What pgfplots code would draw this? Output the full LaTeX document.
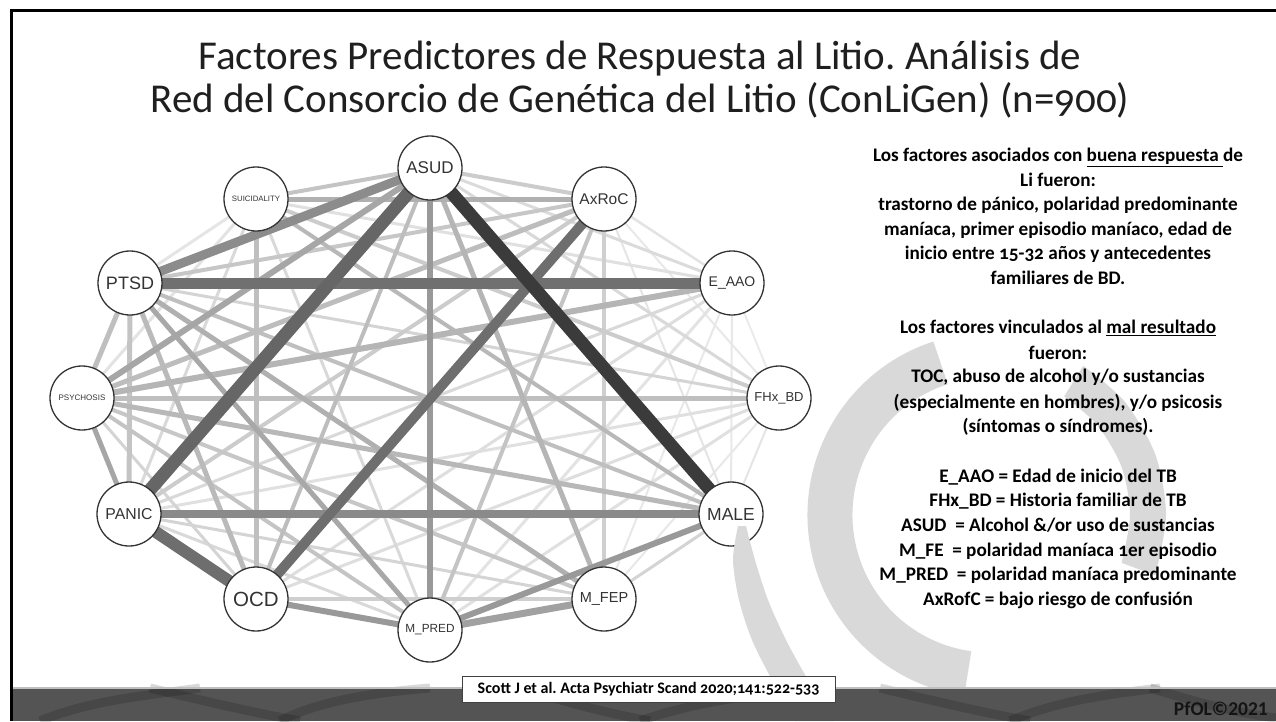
\documentclass[border=0pt]{standalone}
\usepackage{pgfplots}
\pgfplotsset{compat=1.18}
\usepackage{fontspec}
\setmainfont{Carlito}[Numbers=OldStyle]
\newfontfamily\lin{Carlito}
\newfontfamily\arial{Liberation Sans}
\definecolor{wm}{HTML}{D9D9D9}
\definecolor{bar}{HTML}{545454}
\frenchspacing

\begin{document}
\begin{tikzpicture}
\fill[white] (0,0) rectangle (1276pt,721pt);
\begin{axis}[
    at={(0pt,0pt)}, anchor=south west,
    scale only axis, width=1276pt, height=721pt,
    xmin=0, xmax=1276, ymin=0, ymax=721,
    y dir=reverse, hide axis, clip=false
]
% edges, light to dark
\addplot[draw=black!8,  line width=2pt] coordinates {(779,398) (732,283)};
\addplot[draw=black!9,  line width=2pt] coordinates {(604,599) (779,398)};
\addplot[draw=black!9,  line width=2pt] coordinates {(604,599) (732,283)};
\addplot[draw=black!9,  line width=2pt] coordinates {(731,514) (732,283)};
\addplot[draw=black!9,  line width=2pt] coordinates {(779,398) (604,199)};
\addplot[draw=black!10, line width=2pt] coordinates {(731,514) (779,398)};
\addplot[draw=black!10, line width=2pt] coordinates {(731,514) (604,199)};
\addplot[draw=black!11, line width=2.5pt] coordinates {(732,283) (604,199)};
\addplot[draw=black!11, line width=3pt] coordinates {(430,630) (732,283)};
\addplot[draw=black!10, line width=3pt] coordinates {(130,283) (256,199)};
\addplot[draw=black!11, line width=3pt] coordinates {(82,398) (256,199)};
\addplot[draw=black!12, line width=3pt] coordinates {(129,514) (779,398)};
\addplot[draw=black!12, line width=3pt] coordinates {(430,630) (779,398)};
\addplot[draw=black!12, line width=3pt] coordinates {(732,283) (256,199)};
\addplot[draw=black!13, line width=3pt] coordinates {(256,599) (732,283)};
\addplot[draw=black!13, line width=3pt] coordinates {(256,599) (779,398)};
\addplot[draw=black!14, line width=3pt] coordinates {(430,168) (732,283)};
\addplot[draw=black!15, line width=3pt] coordinates {(430,168) (779,398)};
\addplot[draw=black!15, line width=3pt] coordinates {(129,514) (732,283)};
\addplot[draw=black!15, line width=3pt] coordinates {(129,514) (430,630)};
\addplot[draw=black!15, line width=3pt] coordinates {(256,199) (129,514)};
\addplot[draw=black!15, line width=3pt] coordinates {(256,199) (430,630)};
\addplot[draw=black!17, line width=3pt] coordinates {(82,398) (256,599)};
\addplot[draw=black!17, line width=3pt] coordinates {(129,514) (604,599)};
\addplot[draw=black!17, line width=3pt] coordinates {(130,283) (779,398)};
\addplot[draw=black!17, line width=3pt] coordinates {(731,514) (604,599)};
\addplot[draw=black!19, line width=4pt] coordinates {(604,199) (604,599)};
\addplot[draw=black!19, line width=4pt] coordinates {(256,599) (604,599)};
\addplot[draw=black!20, line width=4pt] coordinates {(430,168) (604,199)};
\addplot[draw=black!20, line width=4pt] coordinates {(129,514) (604,199)};
\addplot[draw=black!20, line width=4pt] coordinates {(256,199) (779,398)};
\addplot[draw=black!22, line width=4pt] coordinates {(82,398) (604,599)};
\addplot[draw=black!22, line width=4pt] coordinates {(130,283) (604,199)};
\addplot[draw=black!23, line width=4pt] coordinates {(256,199) (430,168)};
\addplot[draw=black!23, line width=4pt] coordinates {(604,199) (430,630)};
\addplot[draw=black!23, line width=5pt] coordinates {(130,283) (129,514)};
\addplot[draw=black!23, line width=4pt] coordinates {(82,398) (430,630)};
\addplot[draw=black!25, line width=5pt] coordinates {(82,398) (779,398)};
\addplot[draw=black!25, line width=5pt] coordinates {(256,199) (256,599)};
\addplot[draw=black!25, line width=4pt] coordinates {(130,283) (731,514)};
\addplot[draw=black!25, line width=5pt] coordinates {(130,283) (82,398)};
\addplot[draw=black!26, line width=5pt] coordinates {(82,398) (604,199)};
\addplot[draw=black!26, line width=4pt] coordinates {(430,168) (256,599)};
\addplot[draw=black!27, line width=5pt] coordinates {(130,283) (256,599)};
\addplot[draw=black!28, line width=5pt] coordinates {(82,398) (731,514)};
\addplot[draw=black!28, line width=4pt] coordinates {(256,199) (731,514)};
\addplot[draw=black!29, line width=6pt] coordinates {(732,283) (82,398)};
\addplot[draw=black!29, line width=5pt] coordinates {(430,168) (604,599)};
\addplot[draw=black!31, line width=5pt] coordinates {(130,283) (604,599)};
\addplot[draw=black!31, line width=5pt] coordinates {(256,199) (604,199)};
\addplot[draw=black!34, line width=5pt] coordinates {(130,283) (430,630)};
\addplot[draw=black!35, line width=6pt] coordinates {(430,168) (82,398)};
\addplot[draw=black!35, line width=5pt] coordinates {(82,398) (129,514)};
\addplot[draw=black!37, line width=7pt] coordinates {(430,630) (604,599)};
\addplot[draw=black!40, line width=6pt] coordinates {(430,168) (430,630)};
\addplot[draw=black!40, line width=6pt] coordinates {(731,514) (430,630)};
\addplot[draw=black!40, line width=6pt] coordinates {(256,599) (430,630)};
\addplot[draw=black!45, line width=9pt] coordinates {(430,168) (130,283)};
\addplot[draw=black!46, line width=8pt] coordinates {(129,514) (731,514)};
\addplot[draw=black!56, line width=11pt] coordinates {(130,283) (732,283)};
\addplot[draw=black!57, line width=10pt] coordinates {(604,199) (256,599)};
\addplot[draw=black!57, line width=12pt] coordinates {(129,514) (256,599)};
\addplot[draw=black!60, line width=13pt] coordinates {(430,168) (129,514)};
\addplot[draw=black!77, line width=13pt] coordinates {(430,168) (731,514)};
% nodes
\addplot[only marks, mark=*, mark size=32pt,
    mark options={fill=white, draw=black!80, line width=1.3pt},
    point meta=explicit symbolic,
    visualization depends on={value \thisrow{fs}\as\fs},
    nodes near coords,
    nodes near coords style={anchor=center, text=black!80,
        font=\arial\fontsize{\fs}{\fs}\selectfont}]
table[x=x, y=y, meta=lab] {
x   y   fs  lab
430 168 17  ASUD
604 199 15.5 AxRoC
732 283 14  E\_AAO
779 398 13  FHx\_BD
731 514 17.5 MALE
604 599 14.5 M\_FEP
430 630 11.8 M\_PRED
256 599 20.5 OCD
129 514 15.8 PANIC
82  398 8   PSYCHOSIS
130 283 18  PTSD
256 199 7.8 SUICIDALITY
};
\end{axis}

% watermark (canvas y up; centre of the logo at (990,206))
\begin{scope}[x=1pt, y=1pt]
\draw[wm, line width=45pt] (940.56,358.17) arc[start angle=108, end angle=262, radius=160];
\fill[wm] plot[smooth] coordinates {(1083.3,355.2) (1124.8,319.2) (1155.4,266.2) (1166,206) (1155.4,145.8)}
  -- plot[smooth] coordinates {(1121.6,158.1) (1130,206) (1121.6,253.9) (1097.2,296) (1064.2,324.7)} -- cycle;
\fill[wm] plot[smooth] coordinates {(738,195) (733,161) (739,121) (752,81) (772,41) (795,0)}
  -- plot[smooth] coordinates {(833,0) (808,41) (786,81) (768,121) (755,161) (746,195)} -- cycle;
\end{scope}

\begin{scope}[x=1pt, y=-1pt, yshift=721pt]
% title
\node[font=\fontsize{41}{48}\selectfont, text=black!88, anchor=base] at (640,70)
  {Factores Predictores de Respuesta al Litio. Análisis de};
\node[font=\fontsize{41}{48}\selectfont, text=black!88, anchor=base] at (640,113)
  {Red del Consorcio de Genética del Litio (ConLiGen) (n=900)};
% text block
\begin{scope}[every node/.style={anchor=base, inner sep=0pt,
    font=\bfseries\fontsize{19.2}{22}\selectfont}]
\node at (1058,162) {Los factores asociados con \underline{buena respuesta }de};
\node at (1058,186.6) {Li fueron:};
\node at (1058,211) {trastorno de pánico, polaridad predominante};
\node at (1058,236) {maníaca, primer episodio maníaco, edad de};
\node at (1058,260) {inicio entre 15-32 años y antecedentes};
\node at (1058,285) {familiares de BD.};
\node at (1058,334) {Los factores vinculados al \underline{mal resultado}};
\node at (1058,359) {fueron:};
\node at (1058,383) {TOC, abuso de alcohol y/o sustancias};
\node at (1058,408) {(especialmente en hombres), y/o psicosis};
\node at (1058,432) {(síntomas o síndromes).};
\node at (1058,482) {E\_AAO = Edad de inicio del TB};
\node at (1058,506) {FHx\_BD = Historia familiar de TB};
\node at (1058,531) {ASUD\ \ = Alcohol \&/or uso de sustancias};
\node at (1058,556) {M\_FE\ \ = polaridad maníaca 1er episodio};
\node at (1058,580) {M\_PRED\ \ = polaridad maníaca predominante};
\node at (1058,605) {AxRofC = bajo riesgo de confusión};
\end{scope}
% bottom bar
\fill[bar] (11,688) rectangle (1276,721);
\begin{scope}[line width=9pt, black, opacity=0.15]
\draw (40,721) .. controls (90,700) and (150,695) .. (200,688);
\draw (150,688) .. controls (200,700) and (250,712) .. (300,721);
\draw (280,721) .. controls (320,700) and (380,692) .. (430,688);
\draw (520,688) .. controls (560,700) and (600,712) .. (650,721);
\draw (640,721) .. controls (700,700) and (760,694) .. (820,688);
\draw (880,688) .. controls (930,700) and (980,712) .. (1030,721);
\draw (1010,721) .. controls (1060,700) and (1110,694) .. (1160,688);
\draw (1150,688) .. controls (1190,700) and (1230,712) .. (1276,718);
\end{scope}
\draw[black!25, line width=1.5pt] (11,688) -- (1276,688);
\node[draw=black!75, fill=white, line width=0.8pt, minimum width=373pt, minimum height=26pt,
  inner sep=0pt, font=\bfseries\fontsize{16}{18}\selectfont] at (648.5,689)
  {Scott J et al. Acta Psychiatr Scand 2020;141:522-533};
\node[anchor=base east, inner sep=0pt, text=black!92, font=\lin\bfseries\fontsize{19.5}{20}\selectfont]
  at (1268,715) {PfOL©2021};
% frame
\draw[black, line width=3pt] (11,721) -- (11,11) -- (1276,11);
\end{scope}
\pgfresetboundingbox
\path (0,0) rectangle (1276pt,721pt);
\end{tikzpicture}
\end{document}
